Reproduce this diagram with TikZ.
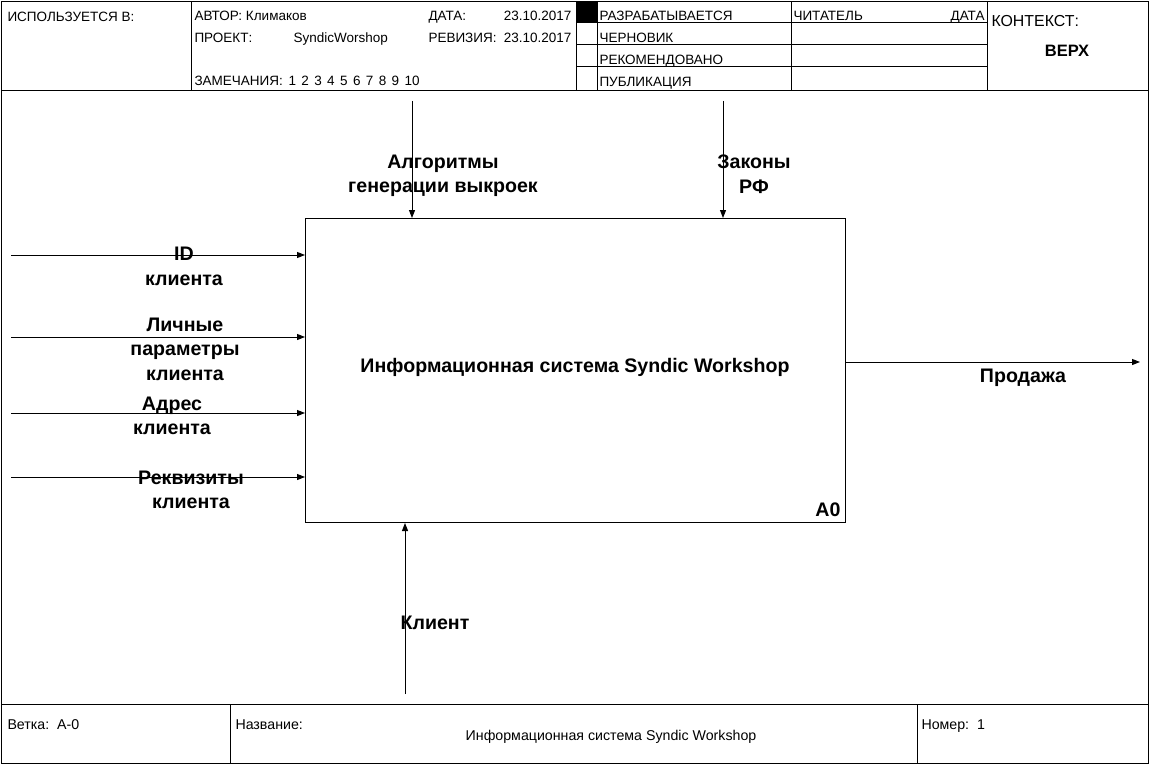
\documentclass[tikz,border=0pt]{standalone}
\usepackage{fontspec}
\setmainfont{Liberation Sans}
\usetikzlibrary{arrows.meta}
\begin{document}
\begin{tikzpicture}[x=1pt,y=-1pt,line width=1pt,
  hdr/.style={font=\fontsize{13.5}{15}\selectfont,anchor=base west,inner sep=0},
  hdrr/.style={hdr,anchor=base east},
  ftr/.style={font=\fontsize{14.2}{16}\selectfont,anchor=base west,inner sep=0},
  lbl/.style={font=\bfseries\fontsize{19.6}{24.5}\selectfont,align=center,inner sep=0,anchor=north},
  arr/.style={-{Triangle[length=8pt,width=6pt]},line width=1pt},
  procbox/.style={draw,line width=1pt,minimum width=540pt,minimum height=304pt,inner sep=0,anchor=north west}]
\useasboundingbox (0,0) rectangle (1151,765);
% frame
\draw (1.5,1.5) rectangle (1148.5,763.5);
\draw (1.5,91) -- (1148.5,91);
\draw (1.5,704) -- (1148.5,704);
\foreach \x in {191,576,597,791,987} \draw (\x,1.5) -- (\x,91);
\foreach \y in {23,45,67} \draw (576,\y) -- (987,\y);
\fill (576,1.5) rectangle (597,23);
\draw (230,704) -- (230,763.5);
\draw (917,704) -- (917,763.5);
% header texts
\node[hdr] (used) at (7,21.5) {ИСПОЛЬЗУЕТСЯ В:};
\node[hdr] (author) at (194,21) {АВТОР: Климаков};
\node[hdr] (datel) at (428,21) {ДАТА:};
\node[hdrr] (date) at (572,21) {23.10.2017};
\node[hdr] (proj) at (194,43) {ПРОЕКТ:};
\node[hdr] (projn) at (293,43) {SyndicWorshop};
\node[hdr] (revl) at (428,43) {РЕВИЗИЯ:};
\node[hdrr] (rev) at (572,43) {23.10.2017};
\node[hdr] (notes) at (194,86) {ЗАМЕЧАНИЯ:};
\node[hdr] (nums) at (288,86) {1\hspace{5.4pt}2\hspace{5.4pt}3\hspace{5.4pt}4\hspace{5.4pt}5\hspace{5.4pt}6\hspace{5.4pt}7\hspace{5.4pt}8\hspace{5.4pt}9\hspace{5.4pt}10};
\node[hdr] (s1) at (599,21) {РАЗРАБАТЫВАЕТСЯ};
\node[hdr] (s2) at (599,43) {ЧЕРНОВИК};
\node[hdr] (s3) at (599,65) {РЕКОМЕНДОВАНО};
\node[hdr] (s4) at (599,87) {ПУБЛИКАЦИЯ};
\node[hdr] (reader) at (793,21) {ЧИТАТЕЛЬ};
\node[hdrr] (rdate) at (985,21) {ДАТА};
\node[hdr,font=\fontsize{15.9}{17}\selectfont] (ctx) at (991,27) {КОНТЕКСТ:};
\node[hdr,anchor=base,font=\bfseries\fontsize{16.5}{18}\selectfont] (top) at (1067,56.5) {ВЕРХ};
% footer texts
\node[ftr] (node) at (7,729.5) {Ветка:\ \ A-0};
\node[ftr] (title) at (235,729.5) {Название:};
\node[ftr,anchor=base] (titlen) at (611,740.5) {Информационная система Syndic Workshop};
\node[ftr] (num) at (921,729.5) {Номер:\ \ 1};
% process box
\node[procbox] (box) at (305,218) {};
\node[lbl] (boxt) at (575,357.5) {Информационная система Syndic Workshop};
\node[lbl,anchor=north east] (a0) at (841,502.5) {A0};
% inputs
\coordinate (i1) at (11,255);
\coordinate (i2) at (11,337);
\coordinate (i3) at (11,413);
\coordinate (i4) at (11,477);
\foreach \c in {i1,i2,i3,i4} \draw[arr] (\c) -- (\c -| box.west);
\node[lbl] (li1) at (184,247) {ID\\клиента};
\node[lbl] (li2) at (185,317.5) {Личные\\параметры\\клиента};
\node[lbl] (li3) at (172,396.5) {Адрес\\клиента};
\node[lbl] (li4) at (191,470.5) {Реквизиты\\клиента};
% controls
\coordinate (c1) at (412,101);
\coordinate (c2) at (723,101);
\draw[arr] (c1) -- (c1 |- box.north);
\draw[arr] (c2) -- (c2 |- box.north);
\node[lbl] (lc1) at (443,154.5) {Алгоритмы\\генерации выкроек};
\node[lbl] (lc2) at (754,154.5) {Законы\\РФ};
% output
\coordinate (o1) at (1140,362);
\draw[arr] (o1 -| box.east) -- (o1);
\node[lbl] (lo1) at (1023,368.5) {Продажа};
% mechanism
\coordinate (m1) at (405,694);
\draw[arr] (m1) -- (m1 |- box.south);
\node[lbl] (lm1) at (435,615.5) {Клиент};
\end{tikzpicture}
\end{document}
